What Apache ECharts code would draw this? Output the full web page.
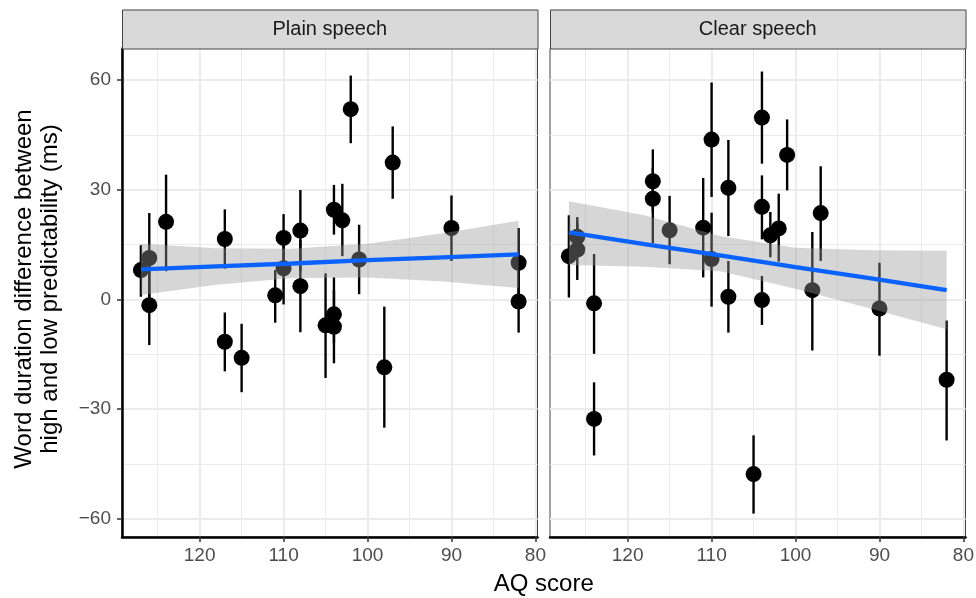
<!DOCTYPE html>
<html>
<head>
<meta charset="utf-8">
<script src="https://cdn.jsdelivr.net/npm/echarts@6/dist/echarts.min.js"></script>
<style>
html, body { margin: 0; padding: 0; background: #fff; }
#chart { width: 976px; height: 598px; }
</style>
</head>
<body>
<div id="chart"></div>
<script>
// facet titles
const panelNames = ['Plain speech', 'Clear speech']

// Plain speech: AQ score, mean difference, error bar ends
const plainAQ = [127, 126, 126, 124, 117, 117, 115, 111, 110, 110, 108, 108, 105, 104, 104, 104, 103, 102, 101, 98, 97, 90, 82, 82]
const plainMean = [8.0, 11.3, -1.6, 21.2, 16.5, -11.6, -16.0, 1.1, 16.8, 8.5, 18.8, 3.6, -7.1, -4.1, -7.5, 24.5, 21.6, 52.0, 10.9, -18.6, 37.4, 19.5, 10.0, -0.6]
const plainLo = [0.7, -1.0, -12.5, 7.7, 8.4, -19.7, -25.4, -6.4, 10.3, -1.4, 7.7, -9.0, -21.5, -12.0, -17.5, 17.7, 11.8, 42.7, 1.4, -35.1, 27.5, 10.5, 0.5, -9.1]
const plainHi = [14.8, 23.6, 9.3, 34.1, 24.6, -3.6, -6.7, 8.0, 23.3, 18.0, 29.9, 16.2, 7.1, 6.0, 2.5, 31.3, 31.6, 61.2, 20.4, -2.0, 47.3, 28.4, 19.5, 8.0]

// Clear speech
const clearAQ = [127, 126, 126, 124, 124, 117, 117, 115, 111, 110, 110, 108, 108, 105, 104, 104, 104, 103, 102, 101, 98, 97, 90, 82]
const clearMean = [11.8, 17.1, 13.6, -1.1, -32.7, 32.3, 27.5, 18.9, 19.6, 43.7, 11.0, 30.5, 0.7, -47.8, 49.7, 25.3, -0.2, 17.5, 19.4, 39.5, 2.5, 23.6, -2.5, -22.0]
const clearLo = [0.5, 11.5, 5.3, -14.9, -42.7, 24.0, 15.4, 9.6, 6.0, 28.0, -2.0, 17.3, -9.1, -58.6, 37.1, 16.4, -7.0, 11.5, 10.3, 29.8, -14.0, 10.5, -15.4, -38.6]
const clearHi = [23.0, 22.5, 21.0, 12.4, -22.7, 41.0, 36.0, 28.3, 33.2, 59.3, 23.7, 43.6, 10.5, -37.2, 62.3, 33.9, 6.4, 23.9, 28.9, 49.2, 18.4, 36.4, 10.0, -5.8]

// linear fit and its confidence band, read at these AQ scores
const fitAQ = [127, 118, 109, 100, 91, 82]
const plainFit = [8.2, 9.0, 9.8, 10.7, 11.5, 12.3]
const plainBandLo = [1.2, 4.0, 5.8, 6.0, 4.9, 3.1]
const plainBandHi = [15.2, 14.0, 13.8, 15.2, 18.1, 21.5]
const clearFit = [18.3, 15.1, 12.0, 8.8, 5.7, 2.5]
const clearBandLo = [9.4, 8.9, 7.7, 2.9, -2.6, -8.2]
const clearBandHi = [26.8, 23.0, 17.3, 14.1, 13.4, 13.3]

// axis ticks
const xTicks = [80, 90, 100, 110, 120]
const xMinor = [85, 95, 105, 115, 125]
const yTicks = [-60, -30, 0, 30, 60]
const yMinor = [-45, -15, 15, 45]

const FONT = 'Liberation Sans, Arial, Helvetica, sans-serif'
const panelLeft = [122, 550]
const panelTop = 48.5
const panelW = 415.5
const panelH = 488.5

const panels = [
  { aq: plainAQ, mean: plainMean, lo: plainLo, hi: plainHi, fit: plainFit, bLo: plainBandLo, bHi: plainBandHi },
  { aq: clearAQ, mean: clearMean, lo: clearLo, hi: clearHi, fit: clearFit, bLo: clearBandLo, bHi: clearBandHi }
]

function renderPointRange(params, api) {
  const p = api.coord([api.value(0), api.value(1)])
  const a = api.coord([api.value(0), api.value(2)])
  const b = api.coord([api.value(0), api.value(3)])
  return {
    type: 'group',
    children: [
      { type: 'line', shape: { x1: a[0], y1: a[1], x2: b[0], y2: b[1] }, style: { stroke: '#000', lineWidth: 2.4 } },
      { type: 'circle', shape: { cx: p[0], cy: p[1], r: 8 }, style: { fill: '#000' } }
    ]
  }
}

// whole band drawn once as one polygon (upper edge, then lower edge backwards)
function bandRenderer(pd) {
  return function (params, api) {
    if (params.dataIndex !== 0) return null
    const upper = fitAQ.map((x, k) => api.coord([x, pd.bHi[k]]))
    const lower = fitAQ.map((x, k) => api.coord([x, pd.bLo[k]])).reverse()
    return {
      type: 'polygon',
      shape: { points: upper.concat(lower) },
      style: { fill: 'rgba(153,153,153,0.4)' }
    }
  }
}

const major = { color: '#ebebeb', width: 2, type: 'solid' }
const minor = { color: '#ebebeb', width: 1, type: 'solid' }
const gridLines = [].concat(
  xMinor.map(v => ({ xAxis: v, lineStyle: minor })),
  yMinor.map(v => ({ yAxis: v, lineStyle: minor })),
  xTicks.map(v => ({ xAxis: v, lineStyle: major })),
  yTicks.map(v => ({ yAxis: v, lineStyle: major }))
)

const grid = []
const xAxis = []
const yAxis = []
const series = []
const graphic = []

panels.forEach((pd, i) => {
  grid.push({
    left: panelLeft[i], top: panelTop, width: panelW, height: panelH,
    outerBoundsMode: 'none', containLabel: false,
    show: true, borderColor: '#444', borderWidth: 1, backgroundColor: '#fff'
  })
  xAxis.push({
    gridIndex: i, type: 'value', inverse: true, min: 79.75, max: 129.25,
    axisLine: { onZero: false, lineStyle: { color: '#000', width: 2.5 } },
    axisTick: { customValues: xTicks, length: 5, lineStyle: { color: '#333', width: 1.5 } },
    axisLabel: { customValues: xTicks, margin: 9, color: '#4d4d4d', fontSize: 19, fontFamily: FONT },
    splitLine: { show: false }
  })
  yAxis.push({
    gridIndex: i, type: 'value', min: -65.0, max: 68.6,
    axisLine: { show: i === 0, onZero: false, lineStyle: { color: '#000', width: 2.5 } },
    axisTick: { show: i === 0, customValues: yTicks, length: 5, lineStyle: { color: '#333', width: 1.5 } },
    axisLabel: {
      show: i === 0, customValues: yTicks, margin: 11, color: '#4d4d4d', fontSize: 19, fontFamily: FONT,
      formatter: v => (v < 0 ? '\u2212' + Math.abs(v) : String(v))
    },
    splitLine: { show: false }
  })

  // grid lines
  series.push({
    type: 'line', xAxisIndex: i, yAxisIndex: i, data: [], z: 0, silent: true,
    markLine: {
      z: 0, silent: true, symbol: ['none', 'none'], label: { show: false }, animation: false,
      emphasis: { disabled: true }, data: gridLines
    }
  })
  // point ranges
  series.push({
    type: 'custom', xAxisIndex: i, yAxisIndex: i, z: 2, silent: true,
    data: pd.aq.map((x, k) => [x, pd.mean[k], pd.lo[k], pd.hi[k]]),
    encode: { x: 0, y: 1 },
    renderItem: renderPointRange
  })
  // confidence band
  series.push({
    type: 'custom', xAxisIndex: i, yAxisIndex: i, z: 3, silent: true, clip: true,
    data: fitAQ.map((x, k) => [x, pd.bLo[k], pd.bHi[k]]),
    encode: { x: 0, y: [1, 2] },
    renderItem: bandRenderer(pd)
  })
  // fit line
  series.push({
    type: 'line', xAxisIndex: i, yAxisIndex: i, z: 4, silent: true,
    data: fitAQ.map((x, k) => [x, pd.fit[k]]),
    symbol: 'none', lineStyle: { color: '#0a62ff', width: 4.3 }
  })

  // facet strip
  graphic.push({
    type: 'rect', left: panelLeft[i], top: 9.5, z: 10,
    shape: { width: panelW, height: panelTop - 9.5 },
    style: { fill: '#d9d9d9', stroke: '#444', lineWidth: 1 }
  })
  graphic.push({
    type: 'text', x: panelLeft[i] + panelW / 2, y: (9.5 + panelTop) / 2 + 0.5, z: 11,
    style: { text: panelNames[i], fill: '#1a1a1a', fontSize: 20, fontFamily: FONT, align: 'center', verticalAlign: 'middle' }
  })
})

graphic.push({
  type: 'text', x: (panelLeft[0] + panelLeft[1] + panelW) / 2, y: 584, z: 11,
  style: { text: 'AQ score', fill: '#000', fontSize: 24, fontFamily: FONT, align: 'center', verticalAlign: 'middle' }
})
graphic.push({
  type: 'text', x: 24, y: 289, rotation: Math.PI / 2, z: 11,
  style: { text: 'Word duration difference between', fill: '#000', fontSize: 24, fontFamily: FONT, align: 'center', verticalAlign: 'middle' }
})
graphic.push({
  type: 'text', x: 50, y: 289, rotation: Math.PI / 2, z: 11,
  style: { text: 'high and low predictability (ms)', fill: '#000', fontSize: 24, fontFamily: FONT, align: 'center', verticalAlign: 'middle' }
})

const chart = echarts.init(document.getElementById('chart'))
chart.setOption({
  animation: false,
  backgroundColor: '#fff',
  grid, xAxis, yAxis, series, graphic
})
</script>
</body>
</html>
